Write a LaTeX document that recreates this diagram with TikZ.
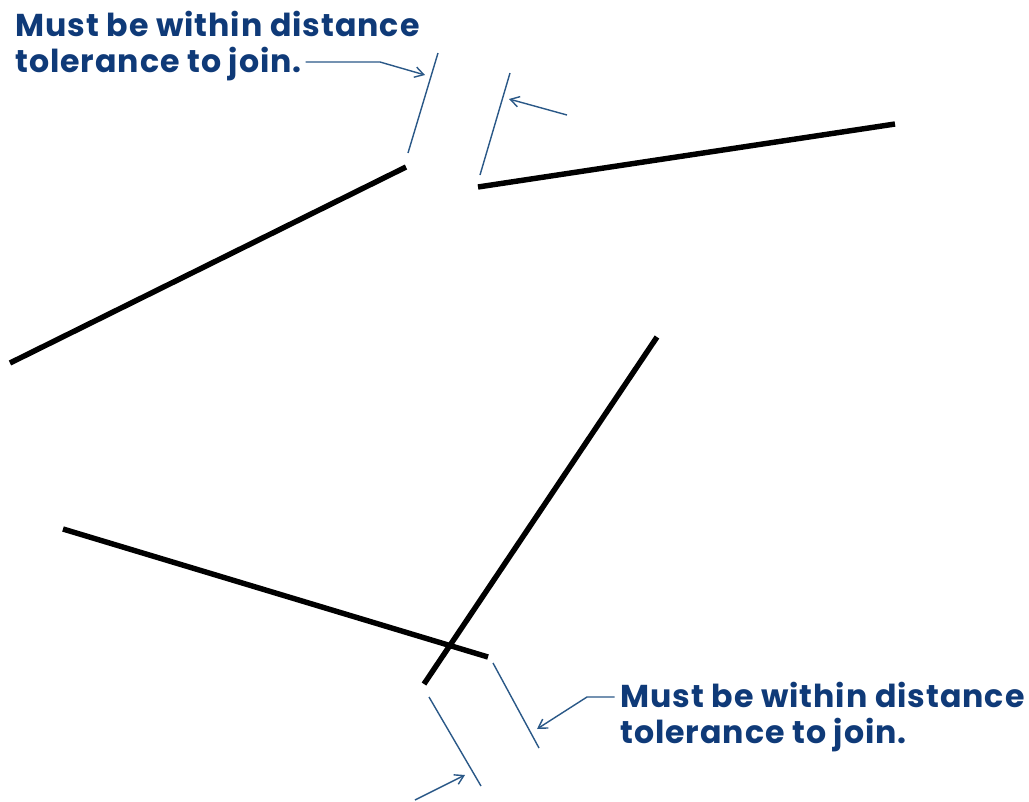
\documentclass[tikz,border=0pt]{standalone}
\usepackage{fontspec}
\setmainfont{Poppins}[LetterSpace=3]
\definecolor{tolNavy}{HTML}{0F3A78}
\definecolor{tolBlue}{HTML}{2A5887}
\usetikzlibrary{arrows.meta}

\begin{document}
\begin{tikzpicture}[x=0.02cm,y=-0.02cm,
  seg/.style={line width=3.1pt,black},
  dim/.style={tolBlue,line width=0.8pt},
  arr/.style={-{Straight Barb[length=5pt,width=6pt]},tolBlue,line width=0.8pt},
  lbl/.style={font=\bfseries\fontsize{18}{21}\selectfont,text=tolNavy,inner sep=0pt,anchor=base west}
]
  \useasboundingbox (0,0) rectangle (1029,802);

  % Top pair -- gap between end points
  \coordinate (a1) at (10,363);  \coordinate (a2) at (406,167);
  \coordinate (b1) at (478,187); \coordinate (b2) at (895,124);
  \draw[seg] (a1) -- (a2);
  \draw[seg] (b1) -- (b2);

  \coordinate (d1s) at (408,153); \coordinate (d1e) at (438,53);
  \coordinate (d2s) at (480,175); \coordinate (d2e) at (510,73);
  \draw[dim] (d1s) -- (d1e);
  \draw[dim] (d2s) -- (d2e);

  \node[lbl] (top1) at (15,36) {Must be within distance};
  \node[lbl] (top2) at (15,72) {tolerance to join.};

  \coordinate (tk1)  at (380,62);
  \coordinate (tip1) at (425,75);
  \coordinate (tl2)  at (567,115);
  \coordinate (tip2) at (509,99);
  \draw[arr] ([xshift=2pt]top2.east |- tk1) -- (tk1) -- (tip1);
  \draw[arr] (tl2) -- (tip2);

  % Bottom pair -- crossing, overshoot
  \coordinate (c1) at (63,529);  \coordinate (c2) at (488,657);
  \coordinate (e1) at (424,684); \coordinate (e2) at (657,337);
  \draw[seg] (c1) -- (c2);
  \draw[seg] (e1) -- (e2);

  \coordinate (d3s) at (493,663); \coordinate (d3e) at (539,748);
  \coordinate (d4s) at (429,697); \coordinate (d4e) at (481,786);
  \draw[dim] (d3s) -- (d3e);
  \draw[dim] (d4s) -- (d4e);

  \node[lbl] (bot1) at (620,707) {Must be within distance};
  \node[lbl] (bot2) at (620,743) {tolerance to join.};

  \coordinate (bk1)  at (587,697);
  \coordinate (tip3) at (537,729);
  \coordinate (tl4)  at (415,800);
  \coordinate (tip4) at (465,775);
  \draw[arr] ([xshift=-3pt]bot1.west |- bk1) -- (bk1) -- (tip3);
  \draw[arr] (tl4) -- (tip4);
\end{tikzpicture}
\end{document}
